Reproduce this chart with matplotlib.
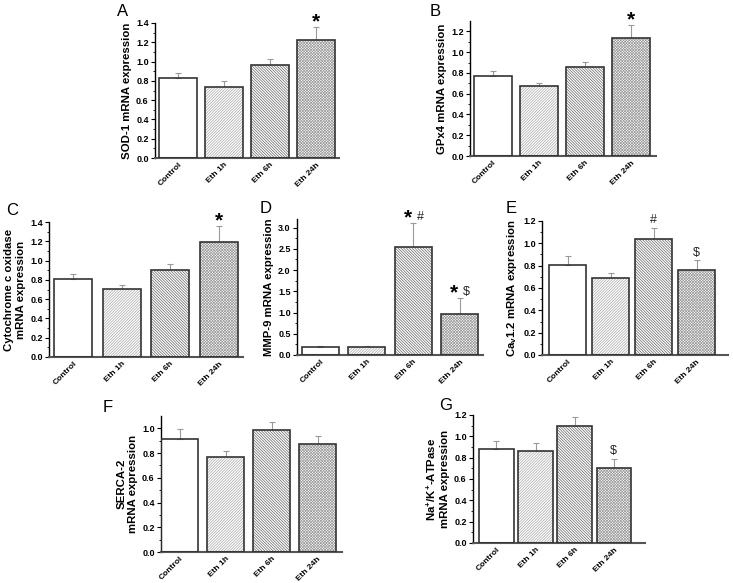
import matplotlib
matplotlib.use("Agg")
import matplotlib.pyplot as plt
import numpy as np

plt.rcParams['font.family'] = ['Liberation Sans', 'DejaVu Sans']
plt.rcParams['mathtext.fontset'] = 'custom'
plt.rcParams['mathtext.rm'] = 'Liberation Sans:bold'
plt.rcParams['mathtext.bf'] = 'Liberation Sans:bold'
plt.rcParams['hatch.linewidth'] = 0.5

groups = ["Control", "Eth 1h", "Eth 6h", "Eth 24h"]

sod1 = [0.83, 0.74, 0.96, 1.22]
sod1_err = [0.055, 0.055, 0.07, 0.14]
gpx4 = [0.77, 0.67, 0.855, 1.14]
gpx4_err = [0.05, 0.035, 0.055, 0.12]
cox = [0.81, 0.71, 0.90, 1.195]
cox_err = [0.055, 0.035, 0.06, 0.16]
mmp9 = [0.19, 0.18, 2.55, 0.975]
mmp9_err = [0.03, 0.03, 0.56, 0.37]
cav12 = [0.81, 0.69, 1.04, 0.757]
cav12_err = [0.08, 0.04, 0.10, 0.09]
serca2 = [0.916, 0.77, 0.99, 0.87]
serca2_err = [0.075, 0.045, 0.06, 0.065]
nak = [0.885, 0.86, 1.10, 0.705]
nak_err = [0.07, 0.08, 0.08, 0.085]

fills = [None, '/' * 12, '\\' * 12, 'x' * 12]
hatch_cols = ['white', '#a8a8a8', '#666666', '#9c9c9c']

W, H = 733, 583
fig = plt.figure(figsize=(W / 100, H / 100), dpi=100)


def panel(letter, rect, vals, errs, ylim, yticks, ylabel, xlim, width, marks, lx, ly):
    l, r, t, b = rect
    ax = fig.add_axes([l / W, 1 - b / H, (r - l) / W, (b - t) / H])
    x = np.arange(len(groups))
    for i in range(len(groups)):
        if fills[i]:
            ax.bar(x[i], vals[i], width, color='white', edgecolor=hatch_cols[i],
                   hatch=fills[i], linewidth=0, zorder=2)
        ax.bar(x[i], vals[i], width, fill=False,
               edgecolor='#333333', linewidth=1.2, zorder=3)
    ax.errorbar(x, vals, yerr=[np.zeros(len(vals)), errs], fmt='none',
                ecolor='#9a9a9a', elinewidth=0.8, capsize=2.5, capthick=0.8, zorder=1)
    for i, m in marks.items():
        ax.annotate(m, (x[i], vals[i] + errs[i]), xytext=(0, 1), textcoords='offset points',
                    ha='center', va='bottom', fontsize=9, color='#222222')
    ax.set_xlim(*xlim)
    ax.set_ylim(*ylim)
    ax.set_yticks(yticks)
    ax.set_yticks(np.array(yticks[:-1]) + (yticks[1] - yticks[0]) / 2, minor=True)
    ax.yaxis.set_major_formatter(matplotlib.ticker.FormatStrFormatter('%.1f'))
    ax.set_xticks(x)
    ax.set_xticklabels(groups, rotation=45, ha='right', rotation_mode='anchor',
                       fontsize=6, fontweight='bold')
    for lab in ax.get_yticklabels():
        lab.set_fontsize(6.5)
        lab.set_fontweight('bold')
    ax.tick_params(axis='x', length=0, pad=2.5)
    ax.tick_params(axis='y', which='major', direction='out', length=3, width=0.8, pad=1.5)
    ax.tick_params(axis='y', which='minor', direction='out', length=1.8, width=0.6)
    ax.spines['top'].set_visible(False)
    ax.spines['right'].set_visible(False)
    ax.spines['left'].set_linewidth(1.0)
    ax.spines['bottom'].set_linewidth(1.5)
    ax.spines['bottom'].set_color('#555555')
    ax.set_ylabel(ylabel, fontsize=8.2, fontweight='bold', labelpad=3)
    fig.text(lx / W, 1 - ly / H, letter, fontsize=12, ha='center', va='center')
    return ax


a = panel('A', (155, 339, 23, 158), sod1, sod1_err, (0, 1.4),
          [0, 0.2, 0.4, 0.6, 0.8, 1.0, 1.2, 1.4], 'SOD-1 mRNA expression',
          (-0.5, 3.5), 0.82, {}, 123, 11)
b = panel('B', (470, 656, 21, 156), gpx4, gpx4_err, (0, 1.3),
          [0, 0.2, 0.4, 0.6, 0.8, 1.0, 1.2], 'GPx4 mRNA expression',
          (-0.5, 3.55), 0.82, {}, 435, 11)
c = panel('C', (49, 243, 222, 357), cox, cox_err, (0, 1.4),
          [0, 0.2, 0.4, 0.6, 0.8, 1.0, 1.2, 1.4], 'Cytochrome c oxidase\nmRNA expression',
          (-0.5, 3.5), 0.78, {}, 12, 210)
d = panel('D', (297, 483, 219, 355), mmp9, mmp9_err, (0, 3.2),
          [0, 0.5, 1.0, 1.5, 2.0, 2.5, 3.0], 'MMP-9 mRNA expression',
          (-0.5, 3.5), 0.8, {2: '#', 3: '$'}, 266, 209)
e = panel('E', (542, 728, 221, 355), cav12, cav12_err, (0, 1.2),
          [0, 0.2, 0.4, 0.6, 0.8, 1.0, 1.2], r'Ca$_\mathbf{v}$1.2 mRNA expression',
          (-0.6, 3.73), 0.87, {2: '#', 3: '$'}, 511, 209)
f = panel('F', (161, 342, 416, 552), serca2, serca2_err, (0, 1.1),
          [0, 0.2, 0.4, 0.6, 0.8, 1.0], 'SERCA-2\nmRNA expression',
          (-0.41, 3.53), 0.8, {}, 108, 407)
g = panel('G', (473, 645, 415, 543), nak, nak_err, (0, 1.2),
          [0, 0.2, 0.4, 0.6, 0.8, 1.0, 1.2], 'Na$^\\mathbf{+}$/K$^\\mathbf{+}$-ATPase\nmRNA expression',
          (-0.6, 3.8), 0.88, {3: '$'}, 446, 405)

# stars for significance vs control
for ax, vals, errs in [(a, sod1, sod1_err), (b, gpx4, gpx4_err), (c, cox, cox_err)]:
    ax.annotate('*', (3, vals[3] + errs[3]), xytext=(0, -3), textcoords='offset points',
                ha='center', va='bottom', fontsize=15, fontweight='bold')
for i in (2, 3):
    d.annotate('*', (i, mmp9[i] + mmp9_err[i]), xytext=(-4, -3), textcoords='offset points',
               ha='center', va='bottom', fontsize=15, fontweight='bold')
# shift D's '#' and '$' to the right of the stars
for t in d.texts:
    if t.get_text() in ('#', '$'):
        t.set_position((5, 0))

fig.savefig('out.png', dpi=100, facecolor='white')
